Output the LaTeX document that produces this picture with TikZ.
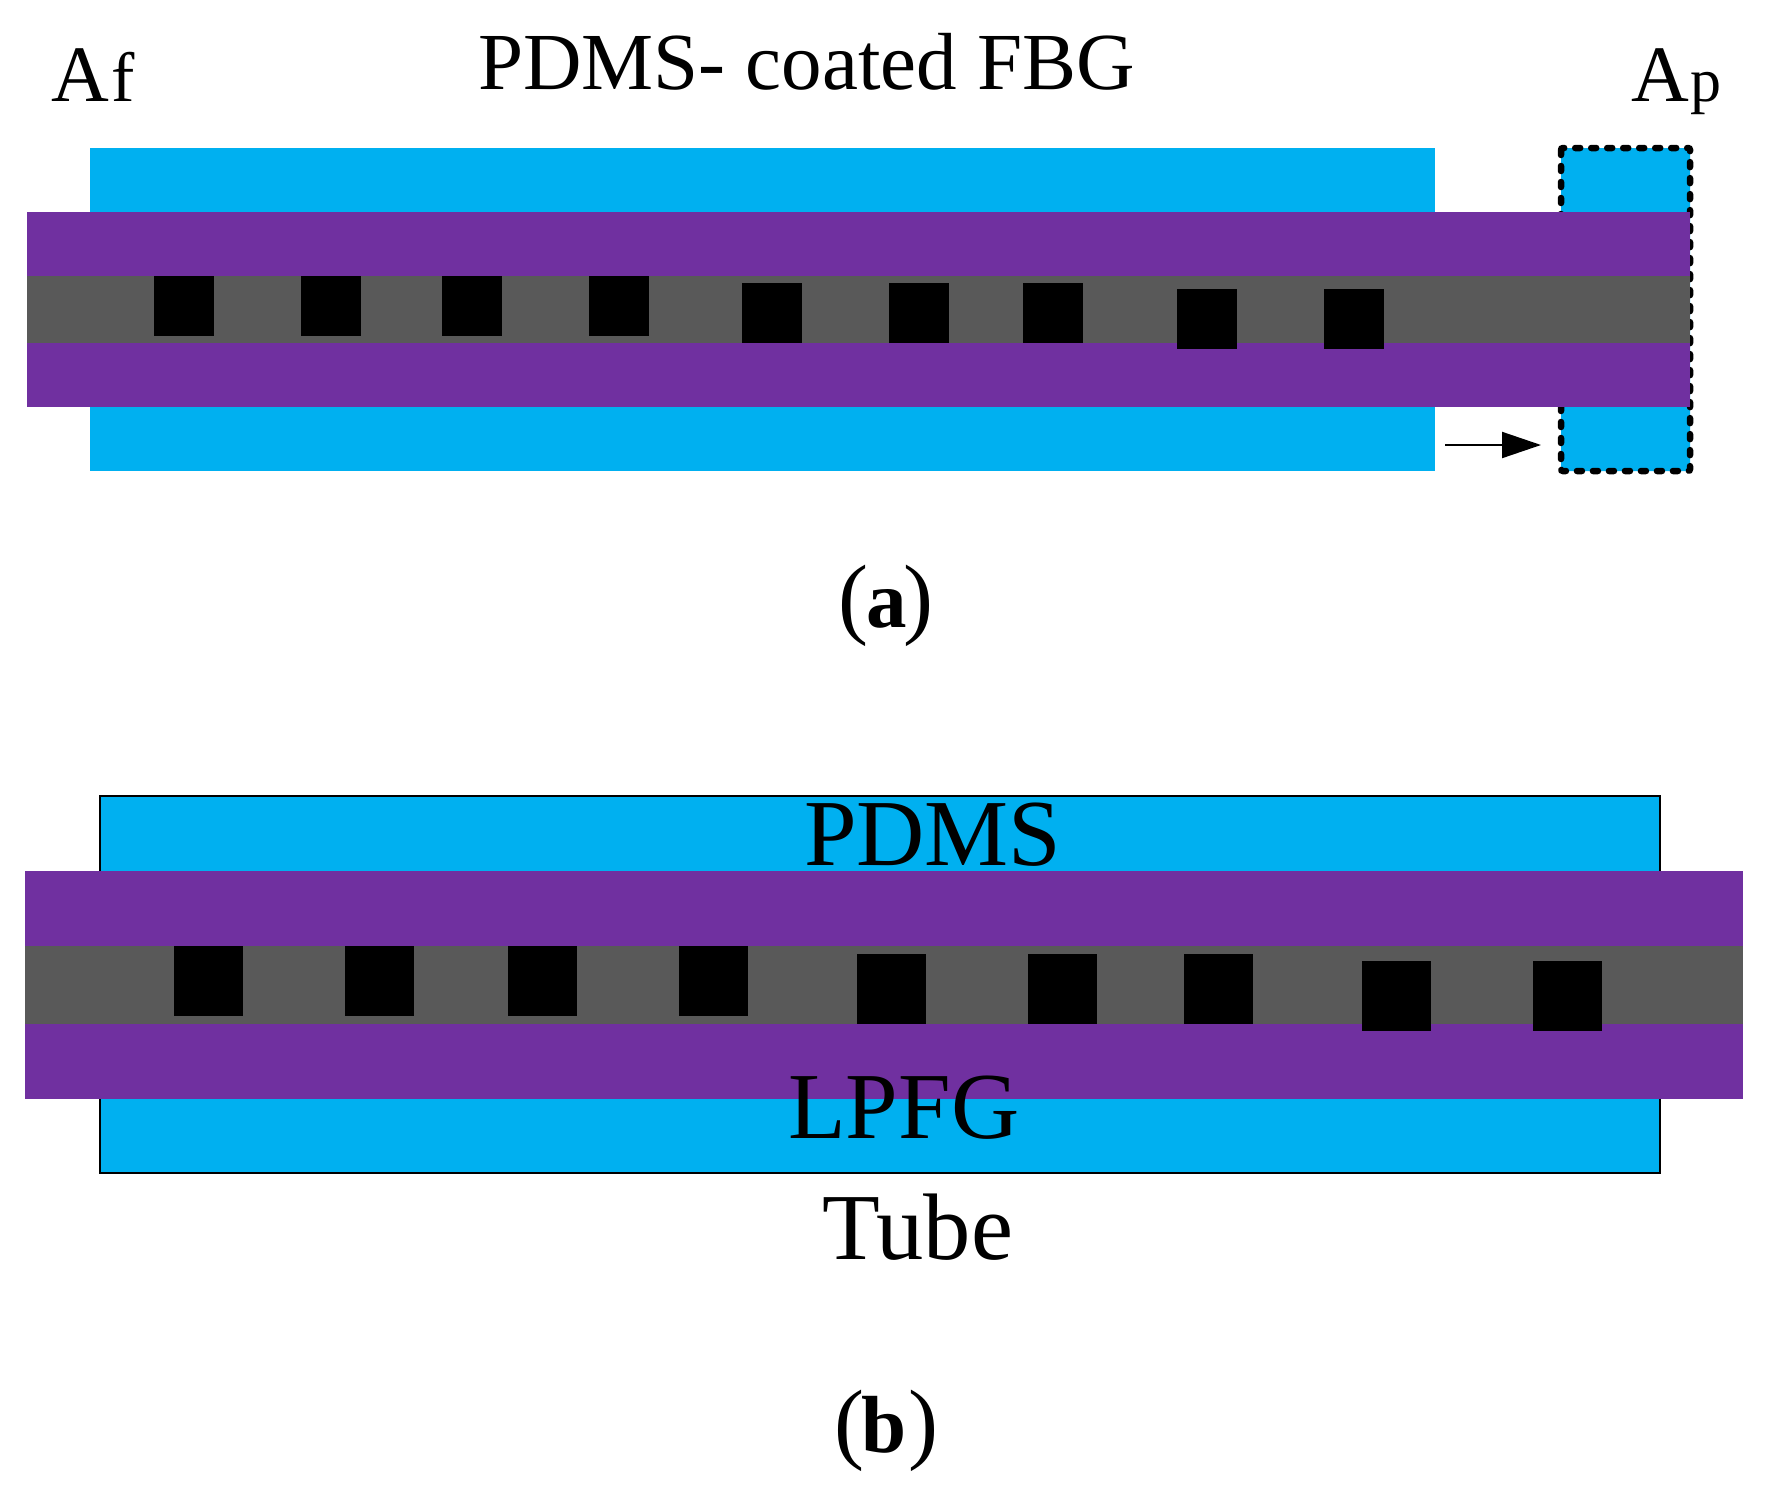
\documentclass[tikz,border=0pt]{standalone}
\usepackage{fontspec}
\setmainfont{Liberation Serif}
\usetikzlibrary{arrows.meta}
\definecolor{tubecyan}{HTML}{00B0F0}
\definecolor{cladpurple}{HTML}{7030A0}
\definecolor{coregray}{HTML}{595959}
\newcommand{\subsz}{\fontsize{62}{70}\selectfont}
\newcommand{\capsz}{\fontsize{81}{90}\selectfont\bfseries}

\begin{document}
\begin{tikzpicture}[
  x=1pt,y=-1pt,
  tube/.style={fill=tubecyan},
  clad/.style={fill=cladpurple},
  core/.style={fill=coregray},
  grating/.style={fill=black},
  outline/.style={draw=black,line width=2pt},
  shifted/.style={draw=black,fill=tubecyan,line width=6.5pt,line cap=round,
                  dash pattern=on 5pt off 11pt,rounded corners=2pt},
  arr/.style={-{Triangle[length=39pt,width=26pt]},line width=2pt},
  lab/.style={anchor=base west,inner sep=0pt,font=\fontsize{81}{90}\selectfont},
  big/.style={anchor=base west,inner sep=0pt,font=\fontsize{94.5}{100}\selectfont},
  sublab/.style={anchor=base west,inner sep=0pt,font=\fontsize{80}{90}\selectfont},
  caplab/.style={anchor=base west,inner sep=0pt,font=\fontsize{90}{100}\selectfont}
]
\useasboundingbox (0,0) rectangle (1771,1491);
% (a)
\fill[tube] (90,148) rectangle (1435,471);
\draw[shifted] (1561,148) rectangle (1690,471);
\fill[clad] (27,212) rectangle (1690,407);
\fill[core] (27,276) rectangle (1690,343);
\foreach \x in {154,301,442,589} \fill[grating] (\x,276) rectangle ++(60,60);
\foreach \x in {742,889,1023} \fill[grating] (\x,283) rectangle ++(60,60);
\foreach \x in {1177,1324} \fill[grating] (\x,289) rectangle ++(60,60);
\coordinate (arrstart) at (1445,445);
\coordinate (arrend) at (1541,445);
\draw[arr] (arrstart) -- (arrend);
\node[lab] (title) at (478,89) {PDMS- coated FBG};
\node[sublab] (af) at (51,101) {A\kern3pt{\fontsize{70}{70}\selectfont f}};
\node[sublab] (ap) at (1631,101) {A\kern2pt{\subsz p}};
\node[caplab] (capa) at (838,627) {(\kern-2pt{\capsz a}\kern-3pt)};
% (b)
\fill[tube] (100,796) rectangle (1660,1173);
\draw[outline] (100,796) rectangle (1660,1173);
\fill[clad] (25,871) rectangle (1743,1099);
\fill[core] (25,946) rectangle (1743,1024);
\foreach \x in {174,345,508,679} \fill[grating] (\x,946) rectangle ++(69,70);
\foreach \x in {857,1028,1184} \fill[grating] (\x,954) rectangle ++(69,70);
\foreach \x in {1362,1533} \fill[grating] (\x,961) rectangle ++(69,70);
\node[big] (pdms) at (804,865) {PDMS};
\node[big] (lpfg) at (788,1138) {LPFG};
\node[big] (tubelab) at (822,1259) {Tube};
\node[caplab] (capb) at (834,1452) {(\kern-3pt{\capsz b}\kern2pt)};
\end{tikzpicture}
\end{document}
